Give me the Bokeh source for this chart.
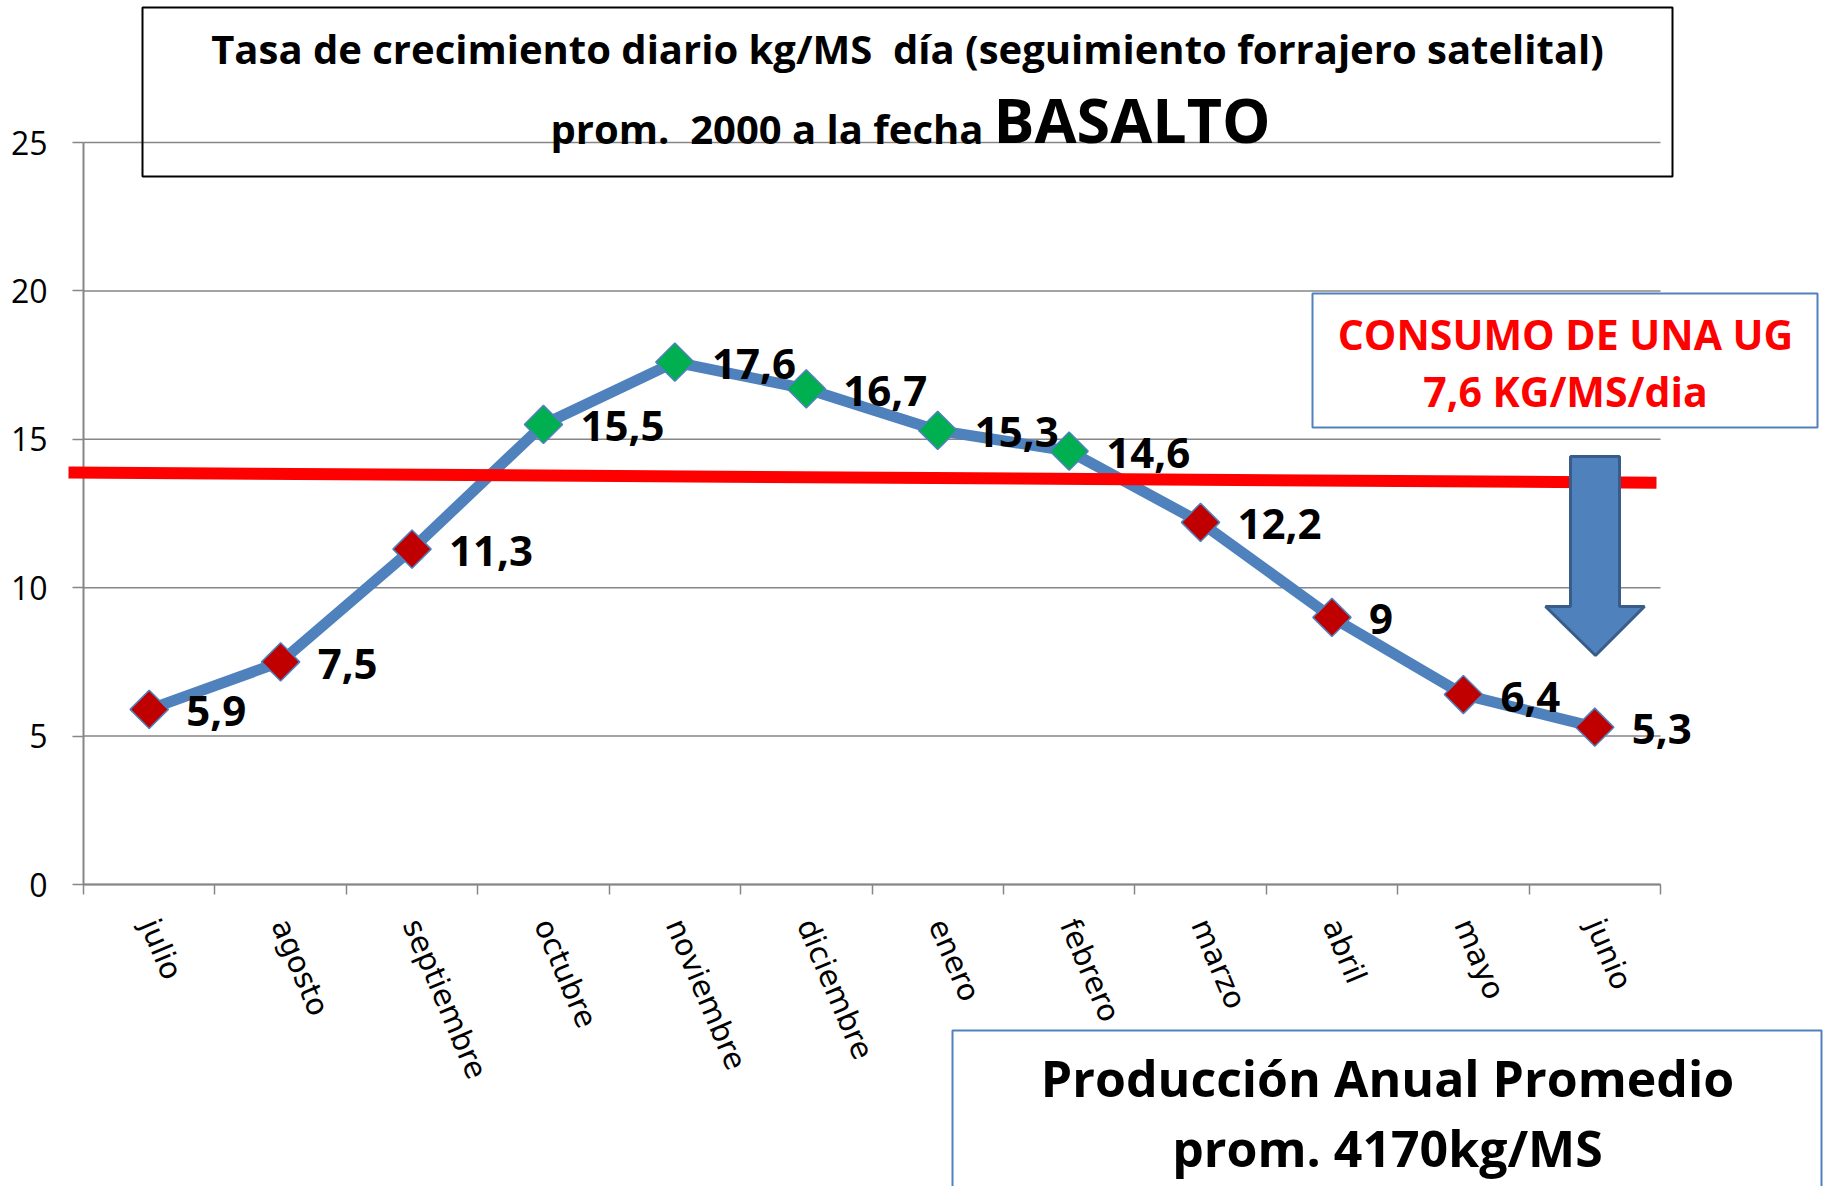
import math
from bokeh.plotting import figure
from bokeh.models import (FixedTicker, BoxAnnotation, Label, LabelSet, ColumnDataSource,
                          PolyAnnotation, Arrow, Range1d, LinearAxis)
from bokeh.core.properties import value
from bokeh.embed import file_html
from bokeh.resources import INLINE

# ---------------- data ----------------
months = ["julio", "agosto", "septiembre", "octubre", "noviembre", "diciembre",
          "enero", "febrero", "marzo", "abril", "mayo", "junio"]
growth = [5.9, 7.5, 11.3, 15.5, 17.6, 16.7, 15.3, 14.6, 12.2, 9.0, 6.4, 5.3]
growth_labels = ["5,9", "7,5", "11,3", "15,5", "17,6", "16,7", "15,3", "14,6",
                 "12,2", "9", "6,4", "5,3"]
marker_colors = ["#C00000", "#C00000", "#C00000", "#00B050", "#00B050", "#00B050",
                 "#00B050", "#00B050", "#C00000", "#C00000", "#C00000", "#C00000"]
y_ticks = [0, 5, 10, 15, 20, 25]
consumo_y = [13.88, 13.54]          # red reference line, start / end level

title_1 = "Tasa de crecimiento diario kg/MS\u00a0 día (seguimiento forrajero satelital)"
title_2a = "prom.\u00a0 2000 a la fecha"
title_2b = "BASALTO"
consumo_1 = "CONSUMO DE UNA UG"
consumo_2 = "7,6 KG/MS/dia"
prod_1 = "Producción Anual Promedio"
prod_2 = "prom. 4170kg/MS"

# ---------------- layout ----------------
W, H = 1827, 1186
FX0, FX1 = 83, 1660       # plotting area (axis box) in canvas pixels
FY0, FY1 = 142, 884
XMIN, XMAX = -0.5, 11.5
YMIN, YMAX = 0, 25


def X(px):
    return XMIN + (px - FX0) / (FX1 - FX0) * (XMAX - XMIN)


def Y(py):
    return YMIN + (FY1 - py) / (FY1 - FY0) * (YMAX - YMIN)


p = figure(width=W, height=H, x_range=Range1d(X(0), X(W)), y_range=Range1d(Y(H), Y(0)),
           output_backend="svg", toolbar_location=None,
           x_axis_type=None, y_axis_type=None,
           min_border_left=0, min_border_right=0, min_border_top=0, min_border_bottom=0)
p.outline_line_color = None
p.background_fill_color = "white"
p.border_fill_color = "white"
p.xgrid.visible = False
p.ygrid.visible = False

GRAY = "#868686"
xs = list(range(len(months)))

# horizontal gridlines
p.segment(x0=[XMIN] * len(y_ticks), x1=[XMAX] * len(y_ticks), y0=y_ticks, y1=y_ticks,
          line_color=GRAY, line_width=1.5)

# x axis
xaxis = LinearAxis(fixed_location=YMIN, bounds=(XMIN, XMAX),
                   ticker=FixedTicker(ticks=xs, minor_ticks=[i - 0.5 for i in range(len(months) + 1)]))
xaxis.major_label_overrides = {i: m for i, m in enumerate(months)}
xaxis.major_tick_line_color = None
xaxis.minor_tick_line_color = GRAY
xaxis.minor_tick_line_width = 1.5
xaxis.minor_tick_out = 10
xaxis.minor_tick_in = 0
xaxis.axis_line_color = GRAY
xaxis.axis_line_width = 2
xaxis.major_label_orientation = -math.radians(67)
xaxis.major_label_standoff = 26
xaxis.major_label_text_font = "DejaVu Sans"
xaxis.major_label_text_font_size = "30px"
xaxis.major_label_text_color = "black"
p.add_layout(xaxis, "below")

# y axis
yaxis = LinearAxis(fixed_location=XMIN, bounds=(YMIN, YMAX), ticker=FixedTicker(ticks=y_ticks))
yaxis.major_tick_out = 11
yaxis.major_tick_in = 0
yaxis.major_tick_line_color = GRAY
yaxis.major_tick_line_width = 1.5
yaxis.minor_tick_line_color = None
yaxis.axis_line_color = GRAY
yaxis.axis_line_width = 2
yaxis.major_label_standoff = 25
yaxis.major_label_text_font = "Open Sans"
yaxis.major_label_text_font_size = "32px"
yaxis.major_label_text_color = "black"
p.add_layout(yaxis, "left")

# ---------------- boxes & annotations ----------------
title_box = BoxAnnotation(left=X(142), right=X(1672), top=Y(7), bottom=Y(176),
                          fill_color=None, fill_alpha=0, line_color="black", line_width=2,
                          line_alpha=1)
p.add_layout(title_box)

consumo_box = BoxAnnotation(left=X(1312), right=X(1817), top=Y(293), bottom=Y(427),
                            fill_color="white", fill_alpha=1, line_color="#4F81BD",
                            line_width=2, line_alpha=1)
p.add_layout(consumo_box)

prod_box = BoxAnnotation(left=X(952), right=X(1821), top=Y(1030), bottom=Y(1240),
                         fill_color="white", fill_alpha=1, line_color="#4F81BD",
                         line_width=2, line_alpha=1)
p.add_layout(prod_box)

# red consumption line
red_line = Arrow(end=None, start=None, x_start=X(68), y_start=consumo_y[0],
                 x_end=X(1656), y_end=consumo_y[1], line_color="#FF0000", line_width=12)
p.add_layout(red_line)

# blue block arrow pointing down
ax_l, ax_r, ah_l, ah_r, ax_c = X(1570), X(1619), X(1545), X(1644), X(1595)
ay_t, ay_h, ay_tip = Y(456), Y(606), Y(655)
blue_arrow = PolyAnnotation(xs=[ax_l, ax_r, ax_r, ah_r, ax_c, ah_l, ax_l],
                            ys=[ay_t, ay_t, ay_h, ay_h, ay_tip, ay_h, ay_h],
                            fill_color="#4F81BD", fill_alpha=1,
                            line_color="#385D8A", line_width=3, line_alpha=1)
p.add_layout(blue_arrow)

# ---------------- series ----------------
src = ColumnDataSource(dict(x=xs, y=growth, lab=growth_labels, col=marker_colors))
p.line("x", "y", source=src, line_color="#4F81BD", line_width=11, line_join="round")
p.scatter("x", "y", source=src, marker="square", size=27, angle=math.pi / 4,
          fill_color="col", line_color="#4F81BD", line_width=1.5)

labels = LabelSet(x="x", y="y", text="lab", source=src, x_offset=37, y_offset=-2,
                  text_align="left", text_baseline="middle",
                  text_font=value("Open Sans"), text_font_style="bold",
                  text_font_size="42px", text_color="black")
p.add_layout(labels)


# ---------------- texts ----------------
def lab(x, y, text, size, align="center", color="black"):
    p.add_layout(Label(x=x, y=y, text=text, text_align=align, text_baseline="middle",
                       text_font="Open Sans", text_font_style="bold",
                       text_font_size=size, text_color=color))


lab(X(907), Y(48), title_1, "40px")
lab(X(983), Y(128), title_2a, "40px", align="right")
lab(X(993), Y(119), title_2b, "61px", align="left")
lab(X(1565), Y(333), consumo_1, "41px", color="#FF0000")
lab(X(1565), Y(390), consumo_2, "41px", color="#FF0000")
lab(X(1387), Y(1077), prod_1, "50px")
lab(X(1387), Y(1147), prod_2, "50px")

open("out.html", "w").write(file_html(p, INLINE))
